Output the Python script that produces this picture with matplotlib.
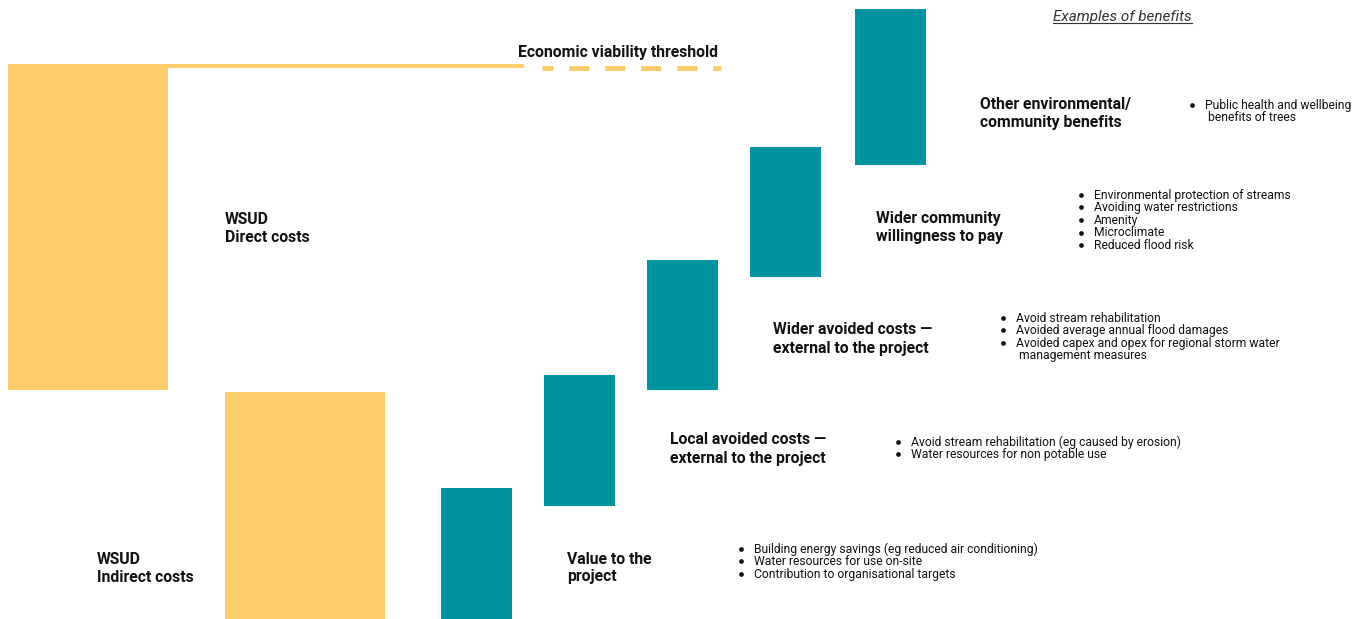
import matplotlib.pyplot as plt

# --- data (arbitrary value units; 0 = bottom of chart) ---
cost_labels = ["WSUD\nDirect costs", "WSUD\nIndirect costs"]
cost_bottoms = [229, 0]
cost_heights = [325, 227]

benefit_labels = [
    "Value to the\nproject",
    "Local avoided costs \u2014\nexternal to the project",
    "Wider avoided costs \u2014\nexternal to the project",
    "Wider community\nwillingness to pay",
    "Other environmental/\ncommunity benefits",
]
benefit_bottoms = [0, 113, 229, 342, 454]
benefit_heights = [131, 131, 130, 130, 156]

benefit_examples = [
    ["Building energy savings (eg reduced air conditioning)",
     "Water resources for use on-site",
     "Contribution to organisational targets"],
    ["Avoid stream rehabilitation (eg caused by erosion)",
     "Water resources for non potable use"],
    ["Avoid stream rehabilitation",
     "Avoided average annual flood damages",
     "Avoided capex and opex for regional storm water",
     " management measures"],
    ["Environmental protection of streams",
     "Avoiding water restrictions",
     "Amenity",
     "Microclimate",
     "Reduced flood risk"],
    ["Public health and wellbeing",
     " benefits of trees"],
]

threshold = 552
threshold_label = "Economic viability threshold"
examples_title = "Examples of benefits"

# --- layout ---
W, H = 1369, 619
yellow = "#FDCC6B"
teal = "#0093A0"
ink = "#111111"

cost_x = [88, 305]
cost_w = 160
benefit_x = [476.5, 579.5, 682.5, 785.5, 890.5]
benefit_w = 71

cost_label_pos = [(225, 228), (97, 568)]          # (x, pixel y of label centre)
benefit_label_pos = [(567, 568), (670, 449), (773, 339), (876, 228), (980, 113)]
example_pos = [(741, 549), (898, 442), (1003, 318), (1081, 195), (1192, 105)]

plt.rcParams['font.family'] = ['Roboto', 'DejaVu Sans']
plt.rcParams['lines.scale_dashes'] = False

fig = plt.figure(figsize=(W / 100, H / 100), dpi=100)
ax = fig.add_axes([0, 0, 1, 1])
ax.set_xlim(0, W)
ax.set_ylim(0, H)
ax.axis('off')

ax.bar(cost_x, cost_heights, bottom=cost_bottoms, width=cost_w, color=yellow, linewidth=0)
ax.bar(benefit_x, benefit_heights, bottom=benefit_bottoms, width=benefit_w, color=teal, linewidth=0)

# threshold: solid over the costs, dashed beyond
ax.plot([8, 524], [threshold + 1, threshold + 1], color=yellow, lw=2.9, solid_capstyle='butt')
ax.plot([542, 721], [threshold - 1, threshold - 1], color=yellow, lw=3.6,
        linestyle=(6.5, (14.4, 11.5)), dash_capstyle='butt')
ax.text(718, H - 52, threshold_label, ha='right', va='center',
        fontsize=11.3, fontweight='bold', color=ink)


def two_lines(x, yc, text, step=18, **kw):
    lines = text.split("\n")
    for i, ln in enumerate(lines):
        y = yc - (len(lines) - 1) * step / 2 + i * step
        ax.text(x, H - y, ln, ha='left', va='center', **kw)


for (x, y), lab in zip(cost_label_pos, cost_labels):
    two_lines(x, y, lab, fontsize=11.3, fontweight='bold', color=ink)
for (x, y), lab in zip(benefit_label_pos, benefit_labels):
    two_lines(x, y, lab, fontsize=11.3, fontweight='bold', color=ink)

# bullet lists
for (x, y), items in zip(example_pos, benefit_examples):
    for i, item in enumerate(items):
        yy = H - (y + i * 12.6)
        if not item.startswith(" "):
            ax.plot([x], [yy + 0.3], 'o', ms=3.4, color=ink, mew=0)
        ax.text(x + 13, yy, item, ha='left', va='center', fontsize=8.7, color=ink)

t = ax.text(1053, H - 17, examples_title, ha='left', va='center',
            fontsize=11, fontstyle='italic', color="#333333")
fig.canvas.draw()
bb = t.get_window_extent().transformed(ax.transData.inverted())
ax.plot([bb.x0, bb.x1], [bb.y0 + 1, bb.y0 + 1], color="#333333", lw=0.8)

fig.savefig("out.png", dpi=100)
